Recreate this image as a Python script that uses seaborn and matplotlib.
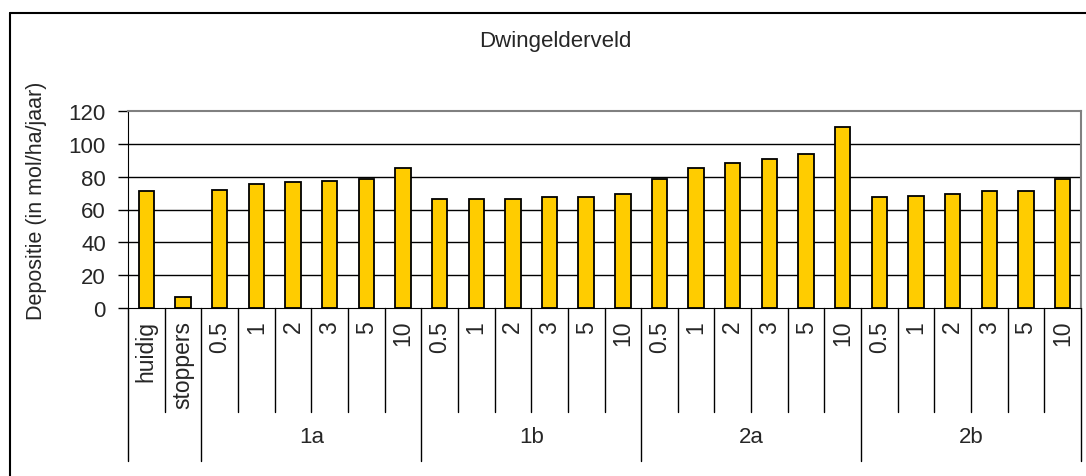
import pandas as pd
import numpy as np
import matplotlib
matplotlib.use("Agg")
import matplotlib.pyplot as plt
import seaborn as sns
from matplotlib.lines import Line2D

# -------------------------------
# Data
# -------------------------------
title = "Dwingelderveld"
ylabel = "Depositie (in mol/ha/jaar)"
base_labels = ["huidig", "stoppers"]
base_values = [71, 6.5]
group_names = ["1a", "1b", "2a", "2b"]
sub_labels = ["0.5", "1", "2", "3", "5", "10"]
values_1a = [72, 75.5, 76.5, 77.5, 78.5, 85]
values_1b = [66.5, 66.5, 66.5, 67.5, 67.5, 69.5]
values_2a = [78.5, 85, 88.5, 90.5, 94, 110]
values_2b = [67.5, 68.5, 69.5, 71, 71, 78.5]
yticks = [0, 20, 40, 60, 80, 100, 120]

group_values = [values_1a, values_1b, values_2a, values_2b]

# build a long table (unique keys since sub labels repeat)
rows = []
for lab, v in zip(base_labels, base_values):
    rows.append({"key": lab, "label": lab, "group": "", "value": v})
for g, vals in zip(group_names, group_values):
    for lab, v in zip(sub_labels, vals):
        rows.append({"key": g + "_" + lab, "label": lab, "group": g, "value": v})
df = pd.DataFrame(rows)

# -------------------------------
# Plot
# -------------------------------
sns.set_style("white")
plt.rcParams["font.family"] = ["Liberation Sans", "DejaVu Sans"]

W, H = 1086, 477
fig = plt.figure(figsize=(W / 100, H / 100), dpi=100)
x0, x1, ytop, ybot = 128, 1081, 112, 309
ax = fig.add_axes([x0 / W, 1 - ybot / H, (x1 - x0) / W, (ybot - ytop) / H])

sns.barplot(data=df, x="key", y="value", order=list(df["key"]),
            color="#FFCC00", saturation=1, edgecolor="black", linewidth=1.3,
            width=0.42, ax=ax)

ax.set_ylim(0, 120)
ax.set_xlim(-0.5, len(df) - 0.5)
ax.set_yticks(yticks)
ax.set_yticklabels([str(t) for t in yticks], fontsize=16)
ax.tick_params(axis="y", length=7, width=1, color="black", pad=9, left=True)
ax.set_xticks([])
ax.set_xlabel("")
ax.set_ylabel(ylabel, fontsize=15.5)
ax.yaxis.set_label_coords(-0.085, 0.55)

for t in yticks[1:-1]:
    ax.axhline(t, color="black", lw=1, zorder=0)
ax.spines["top"].set_color("#808080")
ax.spines["right"].set_color("#808080")
ax.spines["top"].set_linewidth(1.5)
ax.spines["right"].set_linewidth(1.5)
ax.spines["left"].set_color("black")
ax.spines["bottom"].set_color("black")

trans = ax.get_xaxis_transform()
inner_end = -0.528
outer_end = -0.777

# category separator lines
n = len(df)
group_starts = [2 + 6 * i for i in range(len(group_names))]
outer_edges = [0, 2] + [s + 6 for s in group_starts]
for i in range(n + 1):
    end = outer_end if i in outer_edges else inner_end
    ax.add_line(Line2D([i - 0.5, i - 0.5], [0, end], transform=trans,
                       color="black", lw=1, clip_on=False))

# leaf labels
for i, lab in enumerate(df["label"]):
    ax.text(i, -0.06, lab, transform=trans, rotation=90, ha="center",
            va="top", fontsize=16.5)

# group labels
for g, s in zip(group_names, group_starts):
    ax.text(s + 2.5, -0.65, g, transform=trans, ha="center", va="center",
            fontsize=16)

# title
fig.text(555 / W, 1 - 42 / H, title, ha="center", va="center", fontsize=16)

# outer chart frame
fig.add_artist(Line2D([10 / W, 10 / W], [0, 1 - 14 / H], color="black", lw=1.5))
fig.add_artist(Line2D([10 / W, 1], [1 - 14 / H, 1 - 14 / H], color="black", lw=1.5))

fig.savefig("out.png", dpi=100)
